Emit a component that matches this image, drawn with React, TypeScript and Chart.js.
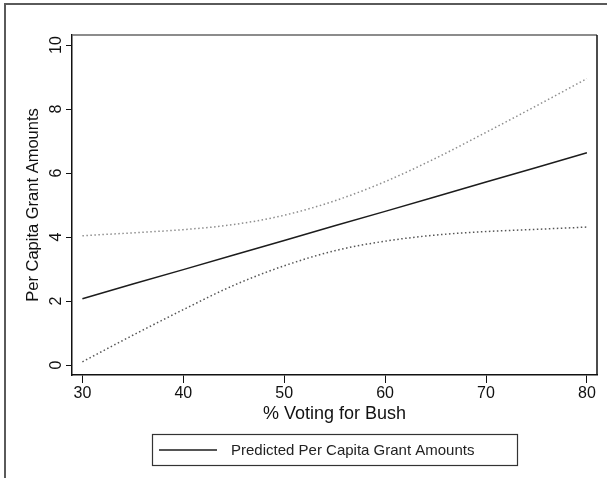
import React, { useEffect, useRef } from "react";
import { Chart, registerables } from "chart.js";

Chart.register(...registerables);

const xValues = [30, 35, 40, 45, 50, 55, 60, 65, 70, 75, 80];
const predicted = [2.07, 2.53, 2.98, 3.44, 3.89, 4.35, 4.8, 5.26, 5.72, 6.17, 6.63];
const upperCI = [4.04, 4.13, 4.23, 4.39, 4.68, 5.13, 5.73, 6.46, 7.27, 8.1, 8.95];
const lowerCI = [0.1, 0.93, 1.73, 2.49, 3.1, 3.57, 3.87, 4.06, 4.17, 4.24, 4.31];
const xTicks = [30, 40, 50, 60, 70, 80];
const yTicks = [0, 2, 4, 6, 8, 10];
const legendLabel = "Predicted Per Capita Grant Amounts";
const xTitle = "% Voting for Bush";
const yTitle = "Per Capita Grant Amounts";

const FONT = "'Liberation Sans', Arial, Helvetica, sans-serif";

const toPoints = (ys: number[]) => xValues.map((x, i) => ({ x, y: ys[i] }));

const framePlugin = {
  id: "stataFrame",
  afterDraw(chart: any) {
    const ctx = chart.ctx;
    const a = chart.chartArea;
    ctx.save();
    // outer graph frame (top + left)
    ctx.strokeStyle = "#5a5a5a";
    ctx.lineWidth = 2;
    ctx.beginPath();
    ctx.moveTo(5, 478);
    ctx.lineTo(5, 4);
    ctx.lineTo(607, 4);
    ctx.stroke();
    // plot region top and right
    ctx.lineWidth = 1.5;
    ctx.strokeStyle = "#666";
    ctx.beginPath();
    ctx.moveTo(a.left, a.top);
    ctx.lineTo(a.right, a.top);
    ctx.stroke();
    ctx.strokeStyle = "#111";
    ctx.beginPath();
    ctx.moveTo(a.right, a.top);
    ctx.lineTo(a.right, a.bottom);
    ctx.stroke();
    // legend box
    const ds = chart.data.datasets[0];
    ctx.strokeStyle = "#333";
    ctx.lineWidth = 1.2;
    ctx.strokeRect(152.5, 434.5, 365, 31);
    ctx.strokeStyle = ds.borderColor;
    ctx.lineWidth = ds.borderWidth;
    ctx.beginPath();
    ctx.moveTo(159, 450);
    ctx.lineTo(217, 450);
    ctx.stroke();
    ctx.fillStyle = "#222";
    ctx.font = `15px ${FONT}`;
    ctx.textAlign = "left";
    ctx.textBaseline = "middle";
    ctx.fillText(ds.label, 231, 451);
    ctx.restore();
  },
};

export default function App() {
  const ref = useRef<HTMLCanvasElement | null>(null);

  useEffect(() => {
    if (!ref.current) return;
    const chart = new Chart(ref.current, {
      type: "line",
      data: {
        datasets: [
          {
            label: legendLabel,
            data: toPoints(predicted),
            borderColor: "#1c1c1c",
            borderWidth: 1.5,
            pointRadius: 0,
            fill: false,
            tension: 0,
          },
          {
            label: "Upper CI",
            data: toPoints(upperCI),
            borderColor: "#8e8e8e",
            borderWidth: 1.5,
            borderDash: [1.5, 2.5],
            pointRadius: 0,
            fill: false,
            cubicInterpolationMode: "monotone",
          },
          {
            label: "Lower CI",
            data: toPoints(lowerCI),
            borderColor: "#555",
            borderWidth: 1.5,
            borderDash: [1.5, 2.5],
            pointRadius: 0,
            fill: false,
            cubicInterpolationMode: "monotone",
          },
        ],
      },
      options: {
        responsive: false,
        animation: false,
        devicePixelRatio: 1,
        layout: { padding: { left: 0, top: 35, right: 10, bottom: 0 } },
        plugins: {
          legend: { display: false },
          tooltip: { enabled: false },
        },
        scales: {
          x: {
            type: "linear",
            min: 28.97,
            max: 81,
            afterBuildTicks: (s: any) => {
              s.ticks = xTicks.map((v) => ({ value: v }));
            },
            afterFit: (s: any) => {
              s.height = 103;
            },
            border: { display: true, color: "#111", width: 1.5 },
            grid: {
              display: true,
              drawOnChartArea: false,
              drawTicks: true,
              tickLength: 8,
              color: "#111",
              lineWidth: 1,
            },
            ticks: {
              color: "#111",
              padding: 1,
              maxRotation: 0,
              autoSkip: false,
              font: { family: FONT, size: 16 },
            },
            title: {
              display: true,
              text: xTitle,
              color: "#111",
              font: { family: FONT, size: 18 },
              padding: { top: 0, bottom: 53 },
            },
          },
          y: {
            type: "linear",
            min: -0.3125,
            max: 10.3125,
            afterBuildTicks: (s: any) => {
              s.ticks = yTicks.map((v) => ({ value: v }));
            },
            afterFit: (s: any) => {
              s.width = 72;
            },
            border: { display: true, color: "#111", width: 1.5 },
            grid: {
              display: true,
              drawOnChartArea: false,
              drawTicks: true,
              tickLength: 6,
              color: "#111",
              lineWidth: 1,
            },
            ticks: {
              color: "#111",
              padding: 1,
              minRotation: 90,
              maxRotation: 90,
              crossAlign: "center",
              autoSkip: false,
              font: { family: FONT, size: 16 },
            },
            title: {
              display: true,
              text: yTitle,
              color: "#111",
              font: { family: FONT, size: 16.5 },
              padding: { top: 24, bottom: 0 },
            },
          },
        },
      } as any,
      plugins: [framePlugin],
    });
    return () => chart.destroy();
  }, []);

  return (
    <div style={{ position: "absolute", left: 0, top: 0, width: 607, height: 478, background: "#fff" }}>
      <canvas ref={ref} width={607} height={478} style={{ display: "block" }} />
    </div>
  );
}
